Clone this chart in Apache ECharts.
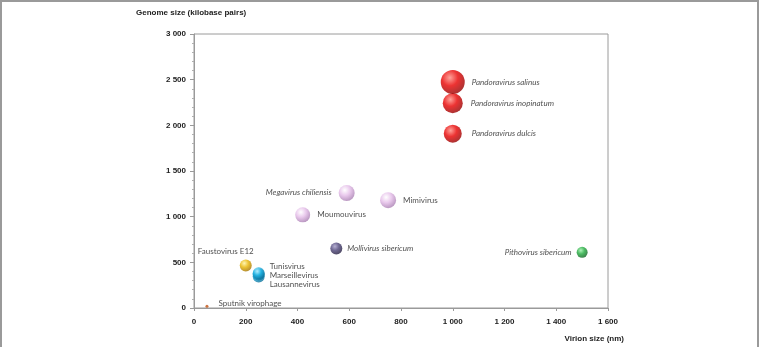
<!DOCTYPE html>
<html>
<head>
<meta charset="utf-8">
<script src="https://cdn.jsdelivr.net/npm/echarts@6/dist/echarts.min.js"></script>
<style>
  html, body { margin: 0; padding: 0; background: #fff; }
</style>
</head>
<body>
<div id="main" style="width:769px;height:347px;"></div>
<script>
// virus names, virion size (nm), genome size (kb)
var virusNames = ['Sputnik virophage', 'Faustovirus E12', 'Tunisvirus', 'Marseillevirus', 'Lausannevirus',
    'Mollivirus sibericum', 'Moumouvirus', 'Megavirus chiliensis', 'Mimivirus',
    'Pandoravirus salinus', 'Pandoravirus inopinatum', 'Pandoravirus dulcis', 'Pithovirus sibericum'];
var virionSize = [50, 200, 250, 250, 250, 550, 420, 590, 750, 1000, 1000, 1000, 1500];
var genomeSize = [18, 466, 380, 368, 346, 651, 1020, 1259, 1181, 2474, 2243, 1908, 610];
var xTicks = [0, 200, 400, 600, 800, 1000, 1200, 1400, 1600];
var yTicks = [0, 500, 1000, 1500, 2000, 2500, 3000];

// colour per group: [highlight, base, shadow]
var palette = {
    red: ['#ff8a80', '#e80000', '#8a0000'],
    pink: ['#ffffff', '#e4bce8', '#a075aa'],
    navy: ['#a49cc8', '#4c4378', '#1e1838'],
    green: ['#9cf0a8', '#1faa3c', '#0a5a1c'],
    gold: ['#fff3a0', '#e8b400', '#9a6a00'],
    blue: ['#b8f0ff', '#1fb0e0', '#0a6890'],
    brown: ['#e08040', '#c05010', '#803000']
};

// look per virus: colour, bubble px, label side
var looks = {
    'Sputnik virophage': { c: 'brown', s: 3, pos: 'right', off: [5, -3], it: false },
    'Faustovirus E12': { c: 'gold', s: 12, pos: 'top', off: [-20, 1], it: false },
    'Tunisvirus': { c: 'blue', s: 12, pos: 'right', off: [0, -7], it: false },
    'Marseillevirus': { c: 'blue', s: 12, pos: 'right', off: [0, 1], it: false },
    'Lausannevirus': { c: 'blue', s: 12, pos: 'right', off: [0, 8], it: false },
    'Mollivirus sibericum': { c: 'navy', s: 12, pos: 'right', off: [0, 0], it: true },
    'Moumouvirus': { c: 'pink', s: 15, pos: 'right', off: [2, 0], it: false },
    'Megavirus chiliensis': { c: 'pink', s: 16, pos: 'left', off: [-2, -1], it: true },
    'Mimivirus': { c: 'pink', s: 16, pos: 'right', off: [2, 0], it: false },
    'Pandoravirus salinus': { c: 'red', s: 24, pos: 'right', off: [2, 0], it: true },
    'Pandoravirus inopinatum': { c: 'red', s: 20, pos: 'right', off: [3, 0], it: true },
    'Pandoravirus dulcis': { c: 'red', s: 18, pos: 'right', off: [5, 0], it: true },
    'Pithovirus sibericum': { c: 'green', s: 11, pos: 'left', off: [0, 0], it: true }
};

function ball(key) {
    var p = palette[key];
    return {
        type: 'radial', x: 0.38, y: 0.32, r: 0.75,
        colorStops: [
            { offset: 0, color: p[0] },
            { offset: 0.45, color: p[1] },
            { offset: 1, color: p[2] }
        ]
    };
}

function fmt(v) {
    if (v >= 1000) {
        var r = String(v % 1000);
        while (r.length < 3) r = '0' + r;
        return Math.floor(v / 1000) + ' ' + r;
    }
    return String(v);
}

var points = virusNames.map(function (n, i) {
    var lk = looks[n];
    return {
        name: n,
        value: [virionSize[i], genomeSize[i]],
        symbolSize: lk.s,
        itemStyle: { color: lk.c === 'brown' ? palette.brown[1] : ball(lk.c) },
        label: {
            show: true,
            formatter: n,
            position: lk.pos,
            offset: lk.off,
            fontStyle: lk.it ? 'italic' : 'normal'
        }
    };
});
// draw the small ones last so overlapping labels stay readable
points.reverse();

var axisFont = { fontFamily: 'Liberation Sans', fontWeight: 'bold', fontSize: 8, color: '#222' };

var myChart = echarts.init(document.getElementById('main'));
myChart.setOption({
    animation: false,
    graphic: [{
        type: 'polyline',
        shape: { points: [[1, 347], [1, 1], [758, 1], [758, 347]] },
        style: { stroke: '#9a9a9a', lineWidth: 2, fill: null },
        silent: true
    }],
    grid: {
        left: 194, top: 34, width: 414, height: 274,
        show: true, borderColor: '#9a9a9a', borderWidth: 1
    },
    xAxis: {
        type: 'value',
        min: xTicks[0], max: xTicks[xTicks.length - 1], interval: 200,
        name: 'Virion size (nm)',
        nameLocation: 'end',
        nameGap: 16,
        nameTextStyle: Object.assign({}, axisFont, {
            align: 'right', verticalAlign: 'top', padding: [27, 0, 0, 0]
        }),
        axisLine: { lineStyle: { color: '#9a9a9a' } },
        axisTick: { show: true, length: 3, lineStyle: { color: '#9a9a9a' } },
        splitLine: { show: false },
        axisLabel: Object.assign({ margin: 10, formatter: fmt }, axisFont)
    },
    yAxis: {
        type: 'value',
        min: yTicks[0], max: yTicks[yTicks.length - 1], interval: 500,
        name: 'Genome size (kilobase pairs)',
        nameLocation: 'end',
        nameGap: 17,
        nameTextStyle: Object.assign({}, axisFont, {
            align: 'left', padding: [0, 0, 0, -58]
        }),
        axisLine: { show: true, lineStyle: { color: '#9a9a9a' } },
        axisTick: { show: true, length: 4, lineStyle: { color: '#9a9a9a' } },
        minorTick: { show: true, splitNumber: 5, length: 2, lineStyle: { color: '#b0b0b0' } },
        splitLine: { show: false },
        axisLabel: Object.assign({ margin: 8, formatter: fmt }, axisFont)
    },
    series: [{
        type: 'scatter',
        data: points,
        label: {
            fontFamily: 'Lato', fontSize: 8, color: '#222'
        }
    }]
});
</script>
</body>
</html>
